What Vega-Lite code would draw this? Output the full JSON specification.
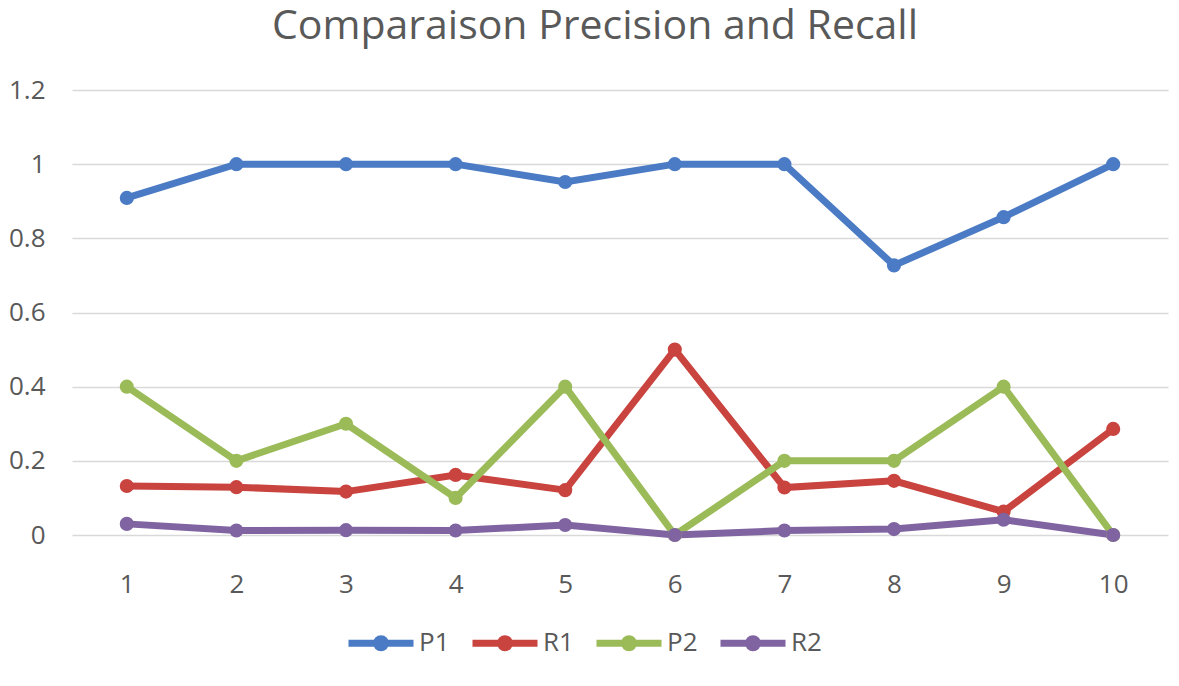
{
  "$schema": "https://vega.github.io/schema/vega-lite/v6.json",
  "autosize": "none",
  "width": 1096,
  "height": 445,
  "padding": {"left": 72, "top": 90, "right": 11, "bottom": 151},
  "background": "white",
  "title": {
    "text": "Comparaison Precision and Recall",
    "font": "Open Sans",
    "fontSize": 41,
    "fontWeight": "normal",
    "color": "#595959",
    "anchor": "middle",
    "baseline": "alphabetic",
    "offset": -3,
    "dx": -25
  },
  "data": {
    "values": [
      {"k": 1, "series": "P1", "value": 0.909},
      {"k": 2, "series": "P1", "value": 1},
      {"k": 3, "series": "P1", "value": 1},
      {"k": 4, "series": "P1", "value": 1},
      {"k": 5, "series": "P1", "value": 0.952},
      {"k": 6, "series": "P1", "value": 1},
      {"k": 7, "series": "P1", "value": 1},
      {"k": 8, "series": "P1", "value": 0.727},
      {"k": 9, "series": "P1", "value": 0.857},
      {"k": 10, "series": "P1", "value": 1},
      {"k": 1, "series": "R1", "value": 0.132},
      {"k": 2, "series": "R1", "value": 0.129},
      {"k": 3, "series": "R1", "value": 0.117},
      {"k": 4, "series": "R1", "value": 0.162},
      {"k": 5, "series": "R1", "value": 0.121},
      {"k": 6, "series": "R1", "value": 0.5},
      {"k": 7, "series": "R1", "value": 0.128},
      {"k": 8, "series": "R1", "value": 0.146},
      {"k": 9, "series": "R1", "value": 0.063},
      {"k": 10, "series": "R1", "value": 0.286},
      {"k": 1, "series": "P2", "value": 0.4},
      {"k": 2, "series": "P2", "value": 0.2},
      {"k": 3, "series": "P2", "value": 0.3},
      {"k": 4, "series": "P2", "value": 0.1},
      {"k": 5, "series": "P2", "value": 0.4},
      {"k": 6, "series": "P2", "value": 0},
      {"k": 7, "series": "P2", "value": 0.2},
      {"k": 8, "series": "P2", "value": 0.2},
      {"k": 9, "series": "P2", "value": 0.4},
      {"k": 10, "series": "P2", "value": 0},
      {"k": 1, "series": "R2", "value": 0.03},
      {"k": 2, "series": "R2", "value": 0.012},
      {"k": 3, "series": "R2", "value": 0.013},
      {"k": 4, "series": "R2", "value": 0.012},
      {"k": 5, "series": "R2", "value": 0.027},
      {"k": 6, "series": "R2", "value": 0},
      {"k": 7, "series": "R2", "value": 0.012},
      {"k": 8, "series": "R2", "value": 0.016},
      {"k": 9, "series": "R2", "value": 0.041},
      {"k": 10, "series": "R2", "value": 0}
    ]
  },
  "mark": {
    "type": "line",
    "strokeWidth": 7,
    "point": {"filled": true, "size": 200}
  },
  "encoding": {
    "x": {
      "field": "k",
      "type": "ordinal",
      "title": null,
      "axis": {
        "labelAngle": 0,
        "labelFont": "Open Sans",
        "labelFontSize": 26,
        "labelColor": "#595959",
        "labelPadding": 36,
        "domain": false,
        "ticks": false,
        "grid": false
      }
    },
    "y": {
      "field": "value",
      "type": "quantitative",
      "title": null,
      "scale": {"domain": [0, 1.2], "nice": false},
      "axis": {
        "values": [0, 0.2, 0.4, 0.6, 0.8, 1, 1.2],
        "format": "~g",
        "labelFont": "Open Sans",
        "labelFontSize": 26,
        "labelColor": "#595959",
        "labelPadding": 27,
        "domain": false,
        "ticks": false,
        "grid": true,
        "gridColor": "#d9d9d9",
        "gridWidth": 1.5
      }
    },
    "color": {
      "field": "series",
      "type": "nominal",
      "title": null,
      "scale": {
        "domain": ["P1", "R1", "P2", "R2"],
        "range": ["#4A7BC4", "#C9433F", "#9BBB59", "#8064A2"]
      },
      "legend": {
        "orient": "none",
        "direction": "horizontal",
        "columns": 4,
        "legendX": 273,
        "legendY": 517,
        "symbolType": "M-1,0L1,0M0.138,0A0.138,0.138 0 1 1 -0.138,0A0.138,0.138 0 1 1 0.138,0M0.046,0A0.046,0.046 0 1 1 -0.046,0A0.046,0.046 0 1 1 0.046,0",
        "symbolSize": 4225,
        "symbolStrokeWidth": 7,
        "labelFont": "Open Sans",
        "labelFontSize": 26,
        "labelColor": "#595959",
        "labelOffset": 2,
        "columnPadding": 8
      }
    }
  },
  "config": {
    "view": {"stroke": null}
  }
}
